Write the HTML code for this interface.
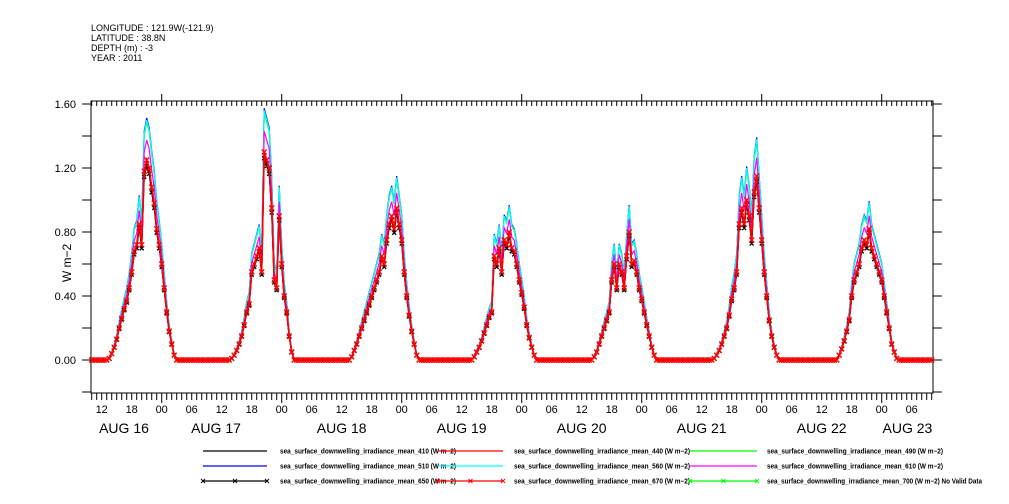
<!DOCTYPE html>
<html><head><meta charset="utf-8">
<style>
html,body{margin:0;padding:0;background:#fff;}
svg{display:block;font-family:"Liberation Sans",sans-serif;}
</style></head>
<body>
<svg id="chart" width="1009" height="504" viewBox="0 0 1009 504" xmlns="http://www.w3.org/2000/svg">
<g font-size="9" fill="#000">
<text x="91" y="31">LONGITUDE : 121.9W(-121.9)</text>
<text x="91" y="41">LATITUDE : 38.8N</text>
<text x="91" y="51">DEPTH (m) : -3</text>
<text x="91" y="61">YEAR : 2011</text>
</g>
<text x="0" y="0" font-size="12" text-anchor="middle" transform="translate(71,263) rotate(-90)">W m−2</text>
<g id="axes"></g>
<g id="series"></g>
<g id="legend"></g>
</svg>
<script>
// ---- data ----
const dayLabels = ["AUG 16","AUG 17","AUG 18","AUG 19","AUG 20","AUG 21","AUG 22","AUG 23"];
const yTickLabels = ["0.00","0.40","0.80","1.20","1.60"];
const yTickValues = [0,0.4,0.8,1.2,1.6];
const hourLabels = ["00","06","12","18"];
// red (670 nm) half-hourly values per day from 13:00 to 03:30
const red670 = [
 [0,0.01,0.04,0.08,0.13,0.2,0.26,0.32,0.37,0.45,0.55,0.68,0.72,0.85,0.72,1.18,1.25,1.2,1.08,0.98,0.82,0.72,0.6,0.45,0.3,0.18,0.1,0.03,0,0],
 [0,0,0.01,0.03,0.06,0.1,0.15,0.22,0.3,0.35,0.55,0.6,0.65,0.7,0.55,1.3,1.25,1.2,0.95,0.5,0.45,0.9,0.6,0.4,0.3,0.15,0.05,0,0,0],
 [0,0,0.02,0.06,0.1,0.15,0.2,0.25,0.3,0.35,0.4,0.45,0.5,0.55,0.65,0.6,0.75,0.85,0.9,0.82,0.95,0.85,0.75,0.55,0.4,0.28,0.18,0.1,0.03,0],
 [0,0,0,0.02,0.05,0.08,0.12,0.17,0.22,0.27,0.3,0.65,0.6,0.7,0.55,0.75,0.72,0.8,0.7,0.68,0.6,0.5,0.42,0.33,0.22,0.14,0.08,0.03,0,0],
 [0,0,0,0.02,0.05,0.1,0.15,0.2,0.25,0.3,0.5,0.6,0.45,0.6,0.55,0.45,0.65,0.8,0.6,0.62,0.55,0.45,0.38,0.3,0.22,0.15,0.08,0.03,0,0],
 [0,0,0,0.01,0.03,0.06,0.1,0.15,0.2,0.28,0.38,0.45,0.55,0.85,0.95,0.85,1.0,0.9,0.75,1.05,1.15,0.95,0.75,0.55,0.4,0.25,0.15,0.08,0.03,0],
 [0,0,0,0,0,0.03,0.07,0.12,0.18,0.25,0.4,0.5,0.55,0.6,0.7,0.75,0.72,0.82,0.7,0.65,0.6,0.55,0.5,0.4,0.3,0.2,0.1,0.05,0.01,0]
];
const seriesNames = ["410","440","490","510","560","610","650","670","700"];
const seriesColors = ["#000","#f00","#0f0","#00f","#0ff","#f0f","#000","#f00","#0f0"];
const seriesScale = [0.98,1.0,1.19,1.21,1.2,1.1,0.97,1.0,0];
const seriesMarker = [false,false,false,false,false,false,true,true,true];
const drawOrder = [0,3,2,4,5,6,1,7];

// ---- scales ----
const X0=91,X1=933,Y0=101,Y1=393;
const H0=9.86,H1=178.3;
function xOf(h){return 161.7+(h-24)*5;}
function yOf(v){return 360-v*160;}
const NS="http://www.w3.org/2000/svg";
function mk(tag,attrs,parent){const e=document.createElementNS(NS,tag);for(const k in attrs)e.setAttribute(k,attrs[k]);parent.appendChild(e);return e;}

const times=[],base=[];
for(let h=Math.ceil(H0*2)/2;h<=H1;h+=0.5){
  let v=0;
  const dd=Math.floor((h-13)/24);
  if(dd>=0&&dd<red670.length){const i=Math.round((h-13-dd*24)*2);if(i<red670[dd].length)v=red670[dd][i];}
  times.push(h);base.push(v);
}

// ---- axes ----
const ax=document.getElementById('axes');
const frame=mk('rect',{x:X0,y:Y0,width:X1-X0,height:Y1-Y0,fill:"none",stroke:"#000","stroke-width":1},ax);


for(let v=-0.2;v<=1.61;v+=0.2){
  const y=yOf(v);
  const t1=mk('line',{x1:X0-9,x2:X0,y1:y,y2:y,stroke:"#000"},ax);
  
  
  const t2=mk('line',{x1:X1,x2:X1+9,y1:y,y2:y,stroke:"#000"},ax);
  
  
}
yTickValues.forEach((v,i)=>{
  const t=mk('text',{x:76,y:yOf(v)+4,"font-size":11,"text-anchor":"end"},ax);
  t.textContent=yTickLabels[i];
  
  
});
for(let h=Math.ceil(H0);h<=H1;h++){
  const x=xOf(h);const major=h%24===0;
  const b=mk('line',{x1:x,x2:x,y1:Y1,y2:Y1+(major?10:7),stroke:"#000"},ax);
  
  
  const t=mk('line',{x1:x,x2:x,y1:major?Y0-7:Y0,y2:Y0+5,stroke:"#000"},ax);
  
  
  if(h%6===0){
    const l=mk('text',{x:x,y:413,"font-size":11,"text-anchor":"middle"},ax);
    l.textContent=hourLabels[(h%24)/6];
    
    
  }
}
dayLabels.forEach((d,i)=>{
  const a=Math.max(H0,i*24),b=Math.min(H1,(i+1)*24);
  let cx=(xOf(a)+xOf(b))/2;
  if(i===0)cx=124; if(i===1)cx=216;
  const l=mk('text',{x:cx,y:433,"font-size":14,"text-anchor":"middle"},ax);
  l.textContent=d;
  
  
});

// ---- series ----
const sg=document.getElementById('series');
drawOrder.forEach(si=>{
  const pts=times.map((h,i)=>xOf(h).toFixed(1)+","+yOf(base[i]*seriesScale[si]).toFixed(1)).join(" ");
  const g=mk('g',{},sg);
  
  
  mk('polyline',{points:pts,fill:"none",stroke:seriesColors[si],"stroke-width":si===7?1.6:1.2},g);
  if(seriesMarker[si]){
    let d="";
    const m=si===7?2.5:2;
    times.forEach((h,i)=>{const x=xOf(h),y=yOf(base[i]*seriesScale[si]);d+=`M${x-m},${y-m}L${x+m},${y+m}M${x-m},${y+m}L${x+m},${y-m}`;});
    mk('path',{d:d,stroke:seriesColors[si],"stroke-width":1.3,fill:"none"},g);
  }
});

// ---- legend ----
const lg=document.getElementById('legend');
const colLine=[[203,267],[438,503],[690,757]],colText=[280,514,767],rowY=[451,466,481];
seriesNames.forEach((n,i)=>{
  const c=i%3,r=Math.floor(i/3);
  const g=mk('g',{},lg);
  
  
  mk('line',{x1:colLine[c][0],x2:colLine[c][1],y1:rowY[r],y2:rowY[r],stroke:seriesColors[i],"stroke-width":1.2},g);
  if(seriesMarker[i]){
    [colLine[c][0],(colLine[c][0]+colLine[c][1])/2,colLine[c][1]].forEach(x=>{
      mk('path',{d:`M${x-2},${rowY[r]-2}L${x+2},${rowY[r]+2}M${x-2},${rowY[r]+2}L${x+2},${rowY[r]-2}`,stroke:seriesColors[i]},g);
    });
  }
  const t=mk('text',{x:colText[c],y:rowY[r]+2.5,"font-size":7,"font-weight":"bold"},g);
  t.textContent="sea_surface_downwelling_irradiance_mean_"+n+" (W m−2)"+(n==="700"?" No Valid Data":"");
  t.setAttribute('textLength',n==="700"?215:176);
  t.setAttribute('lengthAdjust','spacingAndGlyphs');
});
</script>
</body></html>
